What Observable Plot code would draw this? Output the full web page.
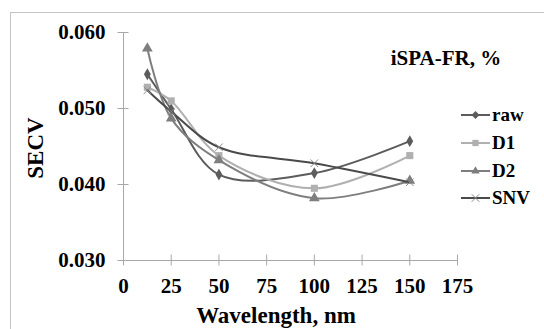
<!DOCTYPE html>
<html>
<head>
<meta charset="utf-8">
<script src="https://cdn.jsdelivr.net/npm/d3@7"></script>
<script src="https://cdn.jsdelivr.net/npm/@observablehq/plot@0.6"></script>
<style>
  html, body { margin: 0; padding: 0; background: #fff; }
  #chart { width: 544px; height: 329px; overflow: hidden; }
</style>
</head>
<body>
<div id="chart"></div>
<script>
const seriesNames = ["raw", "D1", "D2", "SNV"];
const wavelengths = [12.5, 25, 50, 100, 150];
const rawValues = [0.0545, 0.0499, 0.0413, 0.0415, 0.0457];
const d1Values  = [0.0528, 0.0510, 0.0438, 0.0395, 0.0438];
const d2Values  = [0.0579, 0.0487, 0.0432, 0.0382, 0.0405];
const snvValues = [0.0524, 0.0496, 0.0449, 0.0428, 0.0403];
const xTicks = [0, 25, 50, 75, 100, 125, 150, 175];
const yTicks = [0.030, 0.040, 0.050, 0.060];
const chartTitle = "iSPA-FR, %";
const xLabel = "Wavelength, nm";
const yLabel = "SECV";

const valuesBySeries = {raw: rawValues, D1: d1Values, D2: d2Values, SNV: snvValues};
const colors = {raw: "#5c5c5c", D1: "#b0b0b0", D2: "#7e7e7e", SNV: "#4a4a4a"};
const markerColors = {raw: "#5c5c5c", D1: "#b0b0b0", D2: "#7e7e7e", SNV: "#8a8a8a"};
const symbols = {raw: "diamond", D1: "square", D2: "triangle", SNV: "times"};
const symbolSizes = {raw: 3.6, D1: 4, D2: 4, SNV: 3.5};

const data = seriesNames.flatMap(s => wavelengths.map((w, i) => ({series: s, x: w, y: valuesBySeries[s][i]})));

const font = "'Liberation Serif', 'Times New Roman', serif";
const axisColor = "#a8a8a8";

const marks = [
  Plot.ruleX([0], {stroke: axisColor, strokeWidth: 1}),
  Plot.ruleY([0.030], {stroke: axisColor, strokeWidth: 1}),
  Plot.axisX({ticks: xTicks, tickSize: 11, dy: -5.5, text: null, stroke: axisColor, label: null}),
  Plot.axisX({ticks: xTicks, tickSize: 0, tickPadding: 18, fontSize: 21, fontWeight: "bold", fill: "#000", label: null}),
  Plot.axisY({ticks: yTicks, tickSize: 11, dx: 5.5, text: null, stroke: axisColor, label: null}),
  Plot.axisY({ticks: yTicks, tickSize: 0, tickPadding: 18, tickFormat: d3.format(".3f"), fontSize: 21, fontWeight: "bold", fill: "#000", label: null})
];
for (const s of seriesNames) {
  const rows = data.filter(d => d.series === s);
  marks.push(Plot.line(rows, {x: "x", y: "y", stroke: colors[s], strokeWidth: 2, curve: "catmull-rom"}));
  if (symbols[s] === "times") {
    marks.push(Plot.dot(rows, {x: "x", y: "y", stroke: markerColors[s], symbol: "times", r: symbolSizes[s], strokeWidth: 1}));
  } else {
    marks.push(Plot.dot(rows, {x: "x", y: "y", fill: markerColors[s], stroke: "none", symbol: symbols[s], r: symbolSizes[s]}));
  }
}

const plot = Plot.plot({
  width: 544,
  height: 329,
  marginLeft: 123,
  marginRight: 87,
  marginTop: 32,
  marginBottom: 69,
  style: {fontFamily: font, background: "#fff", overflow: "visible"},
  x: {domain: [0, 175], label: null},
  y: {domain: [0.030, 0.060], label: null},
  marks
});

const svg = d3.select(plot);
// outer chart border
svg.insert("rect", ":first-child")
  .attr("x", 10.5).attr("y", 12.5).attr("width", 560).attr("height", 340)
  .attr("fill", "none").attr("stroke", "#c4c4c4").attr("stroke-width", 1);

const txt = (x, y, s, size, anchor, rot) => {
  const t = svg.append("text")
    .attr("x", x).attr("y", y)
    .attr("font-family", font).attr("font-weight", "bold")
    .attr("font-size", size).attr("fill", "#000")
    .attr("text-anchor", anchor).text(s);
  if (rot) t.attr("transform", `rotate(${rot},${x},${y})`);
  return t;
};
txt(446, 65, chartTitle, 21, "middle");
txt(276, 323, xLabel, 23, "middle");
txt(43, 148, yLabel, 23, "middle", -90);

// legend
const legendY = [115, 143, 171, 198];
const symMap = {diamond: d3.symbolDiamond2, square: d3.symbolSquare2, triangle: d3.symbolTriangle2, times: d3.symbolTimes};
seriesNames.forEach((s, i) => {
  const y = legendY[i];
  svg.append("line").attr("x1", 461).attr("x2", 490).attr("y1", y).attr("y2", y)
    .attr("stroke", colors[s]).attr("stroke-width", 2);
  const sym = d3.symbol(symMap[symbols[s]], Math.PI * symbolSizes[s] * symbolSizes[s]);
  const p = svg.append("path").attr("d", sym()).attr("transform", `translate(475.5,${y})`);
  if (symbols[s] === "times") p.attr("fill", "none").attr("stroke", markerColors[s]).attr("stroke-width", 1);
  else p.attr("fill", markerColors[s]);
  txt(492, y + 6, s, 19, "start");
});

document.getElementById("chart").appendChild(plot);
</script>
</body>
</html>
